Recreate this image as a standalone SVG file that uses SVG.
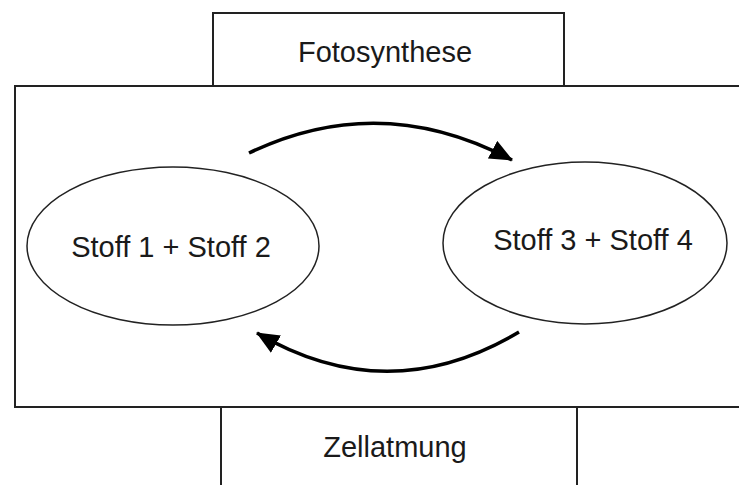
<svg xmlns="http://www.w3.org/2000/svg" width="739" height="485" viewBox="0 0 739 485">
<defs>
<style>
.box{fill:#fff;stroke:#222;stroke-width:2}
.ell{fill:#fff;stroke:#222;stroke-width:1.5}
.lbl{font-family:"Liberation Sans",Arial,sans-serif;font-size:29px;fill:#1a1a1a;text-anchor:middle}
.arr{fill:none;stroke:#000;stroke-width:3.5;marker-end:url(#ah)}
</style>
<marker id="ah" markerUnits="userSpaceOnUse" markerWidth="24" markerHeight="20" refX="22" refY="10" orient="auto" viewBox="0 0 24 20">
<path d="M0,0 L23,10 L0,20 z" fill="#000"/>
</marker>
</defs>
<rect width="739" height="485" fill="#fff"/>
<g id="container">
<rect class="box" x="15" y="86" width="740" height="321"/>
</g>
<g id="fotosynthese">
<rect class="box" x="213" y="13" width="351" height="73"/>
<text class="lbl" x="385" y="62">Fotosynthese</text>
</g>
<g id="zellatmung">
<rect class="box" x="221" y="407" width="356" height="90"/>
<text class="lbl" x="395" y="457">Zellatmung</text>
</g>
<g id="stoff12">
<ellipse class="ell" cx="173" cy="246" rx="146" ry="79"/>
<text class="lbl" x="171" y="257">Stoff 1 + Stoff 2</text>
</g>
<g id="stoff34">
<ellipse class="ell" cx="585" cy="243" rx="142" ry="81"/>
<text class="lbl" x="593" y="250">Stoff 3 + Stoff 4</text>
</g>
<g id="connectors">
<path class="arr" d="M249,153 Q380,90 512,160"/>
<path class="arr" d="M519,332 Q388,410 257,333"/>
</g>
</svg>
